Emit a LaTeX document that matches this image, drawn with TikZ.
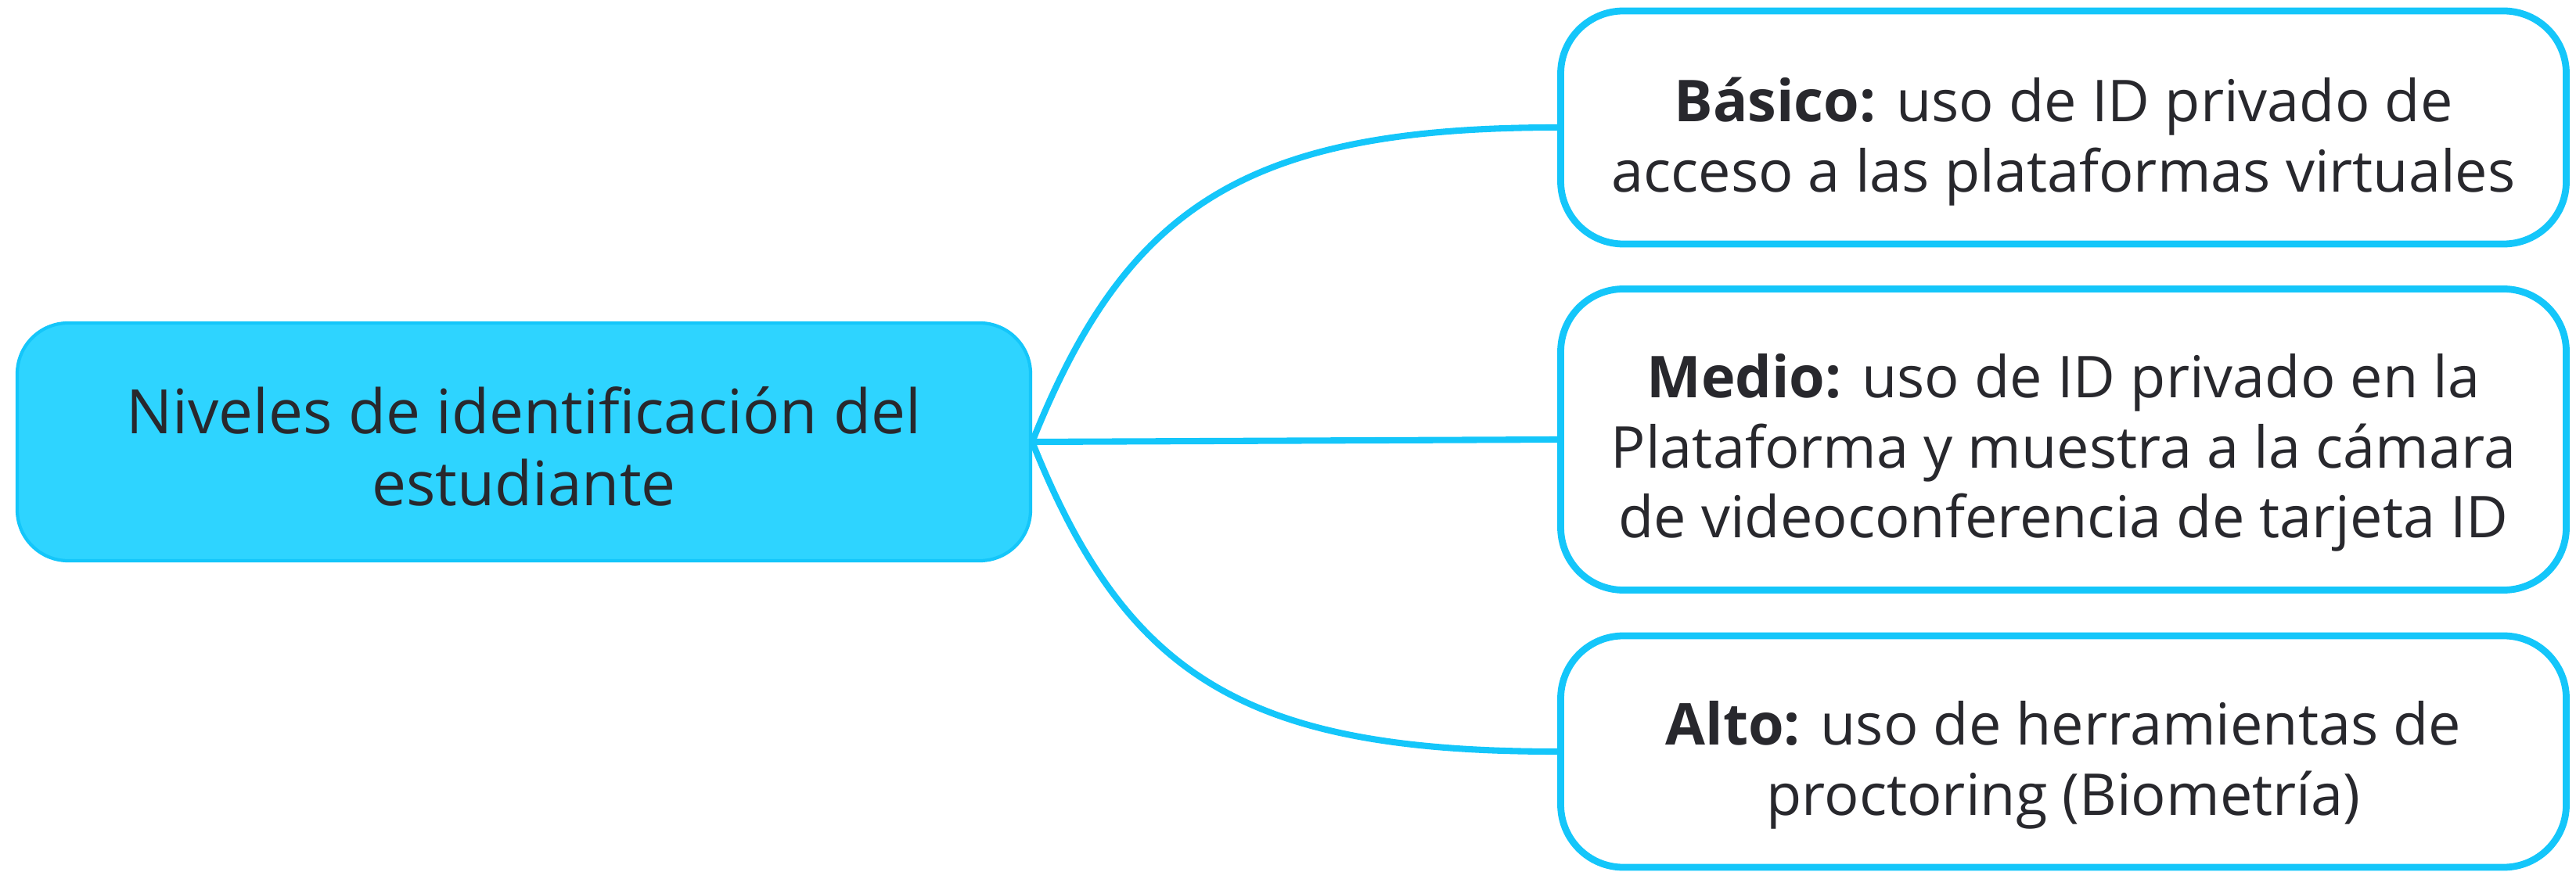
\documentclass[tikz,border=0pt]{standalone}
\usepackage{fontspec}
\setmainfont{Open Sans}
\usepackage{tikz}
\usetikzlibrary{positioning}
\definecolor{celeste}{RGB}{46,212,255}
\definecolor{celesteborde}{RGB}{20,198,250}
\definecolor{texto}{RGB}{40,40,45}
% Holgura sobre la primera linea (baja el texto)
\newcommand{\holgura}[1]{\rule{0pt}{#1}}

\begin{document}
\begin{tikzpicture}[
	raiz/.style={draw=celesteborde,line width=1.2pt,fill=celeste,rounded corners=0.65cm,
		minimum width=12.95cm,minimum height=3.04cm,align=center,text=texto,
		font=\fontsize{22.3}{26}\selectfont},
	nivel/.style={draw=celesteborde,line width=2.5pt,fill=white,rounded corners=0.8cm,
		minimum width=12.85cm,align=center,text=texto,
		font=\fontsize{21}{25.5}\selectfont},
	rama/.style={draw=celesteborde,line width=2.3pt}]
	%
	% Marco de la figura
	\def\mapaXmax{32.92}
	\def\mapaYmax{11.14}
	\useasboundingbox (0,0) rectangle (\mapaXmax,\mapaYmax);
	%
	% Nodos
	\node[raiz] (raiz) at (6.695,5.49) {\holgura{20.4pt}Niveles de identificación del\\estudiante};
	\node[nivel,minimum height=2.98cm] (basico) at (26.37,9.51) {\holgura{26.3pt}\textbf{Básico:} uso de ID privado de\\acceso a las plataformas virtuales};
	\node[nivel,minimum height=3.85cm] (medio) at (26.37,5.52) {\holgura{25.7pt}\textbf{Medio:} uso de ID privado en la\\Plataforma y muestra a la cámara\\de videoconferencia de tarjeta ID};
	\node[nivel,minimum height=2.96cm] (alto) at (26.37,1.53) {\holgura{25.7pt}\textbf{Alto:} uso de herramientas de\\proctoring (Biometría)};
	%
	% Ramas
	\draw[rama] (raiz.east) .. controls +(1.2,3) and +(-4,0) .. (basico.west);
	\draw[rama] (raiz.east) -- (medio.west);
	\draw[rama] (raiz.east) .. controls +(1.2,-3) and +(-4,0) .. (alto.west);
\end{tikzpicture}
\end{document}
